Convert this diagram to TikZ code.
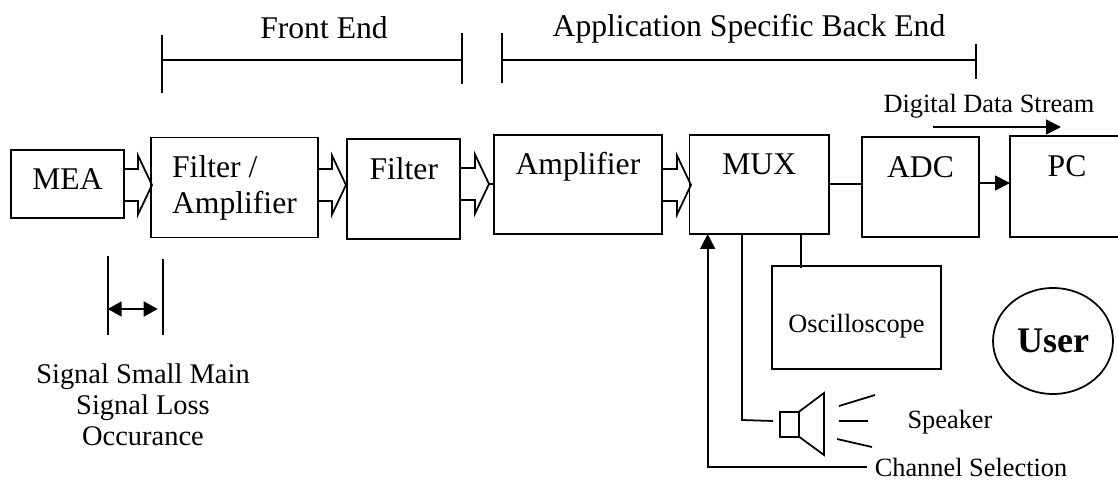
\documentclass[tikz,border=0pt]{standalone}
\usepackage{fontspec}
\setmainfont{Liberation Serif}
\usetikzlibrary{arrows.meta}
\usetikzlibrary{shapes.geometric}
\pgfdeclarelayer{edgelayer}
\pgfdeclarelayer{nodelayer}
\pgfsetlayers{edgelayer,main,nodelayer}
\newcommand{\bigfont}{\fontsize{18}{21}\selectfont}
\newcommand{\smallfont}{\fontsize{15}{17.6}\selectfont}
\tikzset{
    every path/.style={line width=1pt},
    block/.style n args={3}{draw=black,inner sep=0pt,outer sep=0pt,anchor=north west,font=\bigfont,minimum width=#1cm,text height=#2cm,text depth=#3cm},
    tag/.style={inner sep=0pt,anchor=base,font=\bigfont},
    smalltag/.style={inner sep=0pt,anchor=base,font=\smallfont},
    head/.style={-{Triangle[length=3mm,width=3mm]}},
    twohead/.style={{Triangle[length=2.8mm,width=3mm]}-{Triangle[length=2.8mm,width=3mm]}}
}

\begin{document}
\begin{tikzpicture}[x=0.02cm,y=-0.02cm]
        \useasboundingbox (0,0) rectangle (1118,480);
        \begin{pgfonlayer}{nodelayer}
            \node [block={2.26}{0.8}{0.56}] (mea) at (11, 150) {MEA};
            \node [block={3.34}{1.53}{0.47}, align=left] (filtamp) at (151, 137.5) {Filter /\\Amplifier};
            \node [block={2.26}{0.814}{1.186}] (filter) at (347.3, 139.3) {Filter};
            \node [block={3.37}{0.806}{1.18}] (amp) at (493.7, 134.7) {Amplifier};
            \node [block={2.79}{0.806}{1.18}] (mux) at (689.5, 134.7) {MUX};
            \node [block={2.34}{0.82}{1.18}] (adc) at (862, 137) {ADC};
            \node [block={3.38}{1.34}{0.726}, font=\smallfont] (scope) at (772, 265.7) {Oscilloscope};
            \node [block={0.38}{0.25}{0.25}] (spk) at (780, 411.7) {};

            \node [tag] (pc) at (1067, 176) {PC};
            \node [tag] (front) at (324, 38) {Front End};
            \node [tag] (back) at (749, 36) {Application Specific Back End};
            \node [smalltag] (stream) at (989, 112) {Digital Data Stream};
            \node [smalltag] (speaker) at (950, 428) {Speaker};
            \node [smalltag] (channel) at (971, 476) {Channel Selection};
            \node [smalltag, font=\fontsize{16.2}{17.6}\selectfont, align=center] (loss) at (143, 445) {Signal Small Main\\Signal Loss\\Occurance};

            \node [draw=black, ellipse, inner sep=0pt, minimum width=2.4cm, minimum height=2.12cm, font=\fontsize{20.5}{24}\selectfont\bfseries] (user) at (1053, 341) {User};

            \coordinate (pcin) at (1010, 183);
            \coordinate (streamstart) at (933, 127);
            \coordinate (streamend) at (1061, 127);
            \coordinate (spkin) at (773, 421);
            \coordinate (channelend) at (867, 467);
        \end{pgfonlayer}

        \begin{pgfonlayer}{edgelayer}
            \foreach \from/\to/\neck/\tipy in {mea/filtamp/138/185, filtamp/filter/332/185, filter/amp/475/184, amp/mux/677/185} {
                \draw [line join=miter] (\from.east |- 0,\tipy-16) -- (\neck,\tipy-16) -- (\neck,\tipy-29.5) -- (\neck+14,\tipy) -- (\neck,\tipy+29.5) -- (\neck,\tipy+16) -- (\from.east |- 0,\tipy+16);
                \draw (\neck+14,\tipy) -- (\to.west |- 0,\tipy);
            }

            \draw (mux.east |- 0,184) -- (adc.west |- 0,184);
            \draw [head] (adc.east |- pcin) -- (pcin);
            \draw [head] (streamstart) -- (streamend);
            \draw (1118, 135.7) -- (1010, 135.7) -- (1010, 237) -- (1118, 237);

            \draw (800.7,0 |- mux.south) -- (800.7, 268);
            \draw (742,0 |- mux.south) -- (742, 420) -- (spkin);
            \draw [head] (channelend) -- (707.7, 467) -- (707.7,0 |- mux.south);

            \draw (spk.north east) -- (824, 393) -- (824, 455) -- (spk.south east);
            \draw (839, 406) -- (875, 395);
            \draw (839, 421) -- (868, 421);
            \draw (837, 439) -- (872, 447);

            \draw (162, 35) -- (162, 93);
            \draw (461.7, 33) -- (461.7, 84);
            \draw (162, 60) -- (461.7, 60);
            \draw (501.7, 33) -- (501.7, 83);
            \draw (976, 44) -- (976, 79);
            \draw (501.7, 60) -- (976, 60);

            \draw (107.7, 256) -- (107.7, 335);
            \draw (163, 259) -- (163, 335);
            \draw [twohead] (107.7, 309) -- (157.7, 309);
        \end{pgfonlayer}
    \end{tikzpicture}
\end{document}
